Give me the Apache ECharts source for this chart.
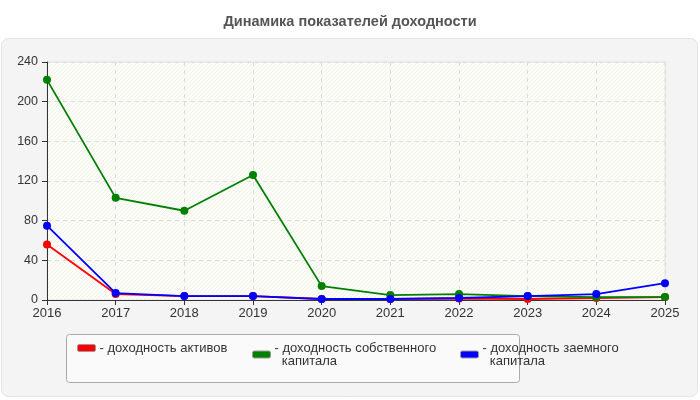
<!DOCTYPE html>
<html>
<head>
<meta charset="utf-8">
<script src="https://cdn.jsdelivr.net/npm/echarts@6/dist/echarts.min.js"></script>
<style>
  html, body { margin: 0; padding: 0; background: #fff; }
  #main { width: 700px; height: 400px; }
</style>
</head>
<body>
<div id="main"></div>
<script>
var years = ['2016', '2017', '2018', '2019', '2020', '2021', '2022', '2023', '2024', '2025'];
var assetsReturn = [56, 6, 4, 4, 1, 1, 1.5, 1, 2, 3];        // доходность активов
var equityReturn = [222, 103, 90, 126, 14, 5, 6, 4, 3, 3];   // доходность собственного капитала
var debtReturn = [75, 7, 4, 4, 1, 1, 2, 4, 6, 17];           // доходность заемного капитала
var yTicks = [0, 40, 80, 120, 160, 200, 240];

var names = ['доходность активов', 'доходность собственного\nкапитала', 'доходность заемного\nкапитала'];
var colors = ['#ff0000', '#008000', '#0000ff'];
var legendLeft = [77, 252, 460];

// diagonal hatch for plot background
var hatch = document.createElement('canvas');
hatch.width = 4; hatch.height = 4;
var hc = hatch.getContext('2d');
hc.fillStyle = '#fdfdf8';
hc.fillRect(0, 0, 4, 4);
hc.strokeStyle = '#f0f0ec';
hc.lineWidth = 1;
hc.beginPath();
hc.moveTo(0, 4); hc.lineTo(4, 0);
hc.stroke();

var myChart = echarts.init(document.getElementById('main'));

var font = 'Liberation Sans, Arial, sans-serif';
var seriesData = [assetsReturn, equityReturn, debtReturn];

var option = {
    animation: false,
    backgroundColor: '#fff',
    title: {
        text: 'Динамика показателей доходности',
        left: 'center',
        top: 9,
        textStyle: { fontFamily: font, fontSize: 14.5, fontWeight: 'bold', color: '#555' }
    },
    graphic: [
        {
            type: 'rect', z: -10, silent: true,
            shape: { x: 1.5, y: 38.5, width: 696, height: 358, r: 7 },
            style: { fill: '#f4f4f4', stroke: '#e4e4e4', lineWidth: 1 }
        },
        {
            type: 'rect', z: -9, silent: true,
            shape: { x: 66.5, y: 334.5, width: 453, height: 48, r: 3 },
            style: { fill: '#fafafa', stroke: '#aaaaaa', lineWidth: 1 }
        }
    ],
    grid: {
        left: 47, right: 35, top: 62, bottom: 100,
        show: true,
        backgroundColor: { image: hatch, repeat: 'repeat' },
        borderWidth: 1,
        borderColor: '#e2e2e2'
    },
    legend: names.map(function (n, i) {
        return {
            data: [n],
            left: legendLeft[i],
            top: 338,
            orient: 'vertical',
            icon: 'roundRect',
            itemWidth: 18,
            itemHeight: 7,
            itemGap: 0,
            padding: 0,
            selectedMode: false,
            itemStyle: { borderColor: '#999', borderWidth: 1 },
            formatter: function (name) {
                return '- ' + name.replace('\n', '\n  ');
            },
            textStyle: { fontFamily: font, fontSize: 13, color: '#333', lineHeight: 13, padding: [7, 0, 0, -1] }
        };
    }),
    xAxis: {
        type: 'category',
        data: years,
        boundaryGap: false,
        axisLine: { lineStyle: { color: '#333', width: 1 } },
        axisTick: { show: true, length: 5, lineStyle: { color: '#333' } },
        axisLabel: { fontFamily: font, fontSize: 13, color: '#333', margin: 7 },
        splitLine: { show: true, lineStyle: { color: '#dcdcdc', type: [4, 4] } }
    },
    yAxis: {
        type: 'value',
        min: 0,
        max: yTicks[yTicks.length - 1],
        interval: yTicks[1] - yTicks[0],
        axisLine: { show: true, lineStyle: { color: '#333', width: 1 } },
        axisTick: { show: true, length: 5, lineStyle: { color: '#333' } },
        axisLabel: { fontFamily: font, fontSize: 12.5, color: '#333', margin: 9 },
        splitLine: { show: true, lineStyle: { color: '#dcdcdc', type: [4, 4] } }
    },
    series: names.map(function (n, i) {
        return {
            name: n,
            type: 'line',
            data: seriesData[i],
            symbol: 'circle',
            symbolSize: 8,
            lineStyle: { color: colors[i], width: 1.8 },
            itemStyle: { color: colors[i] },
            z: 2 + i
        };
    })
};

myChart.setOption(option);
</script>
</body>
</html>
